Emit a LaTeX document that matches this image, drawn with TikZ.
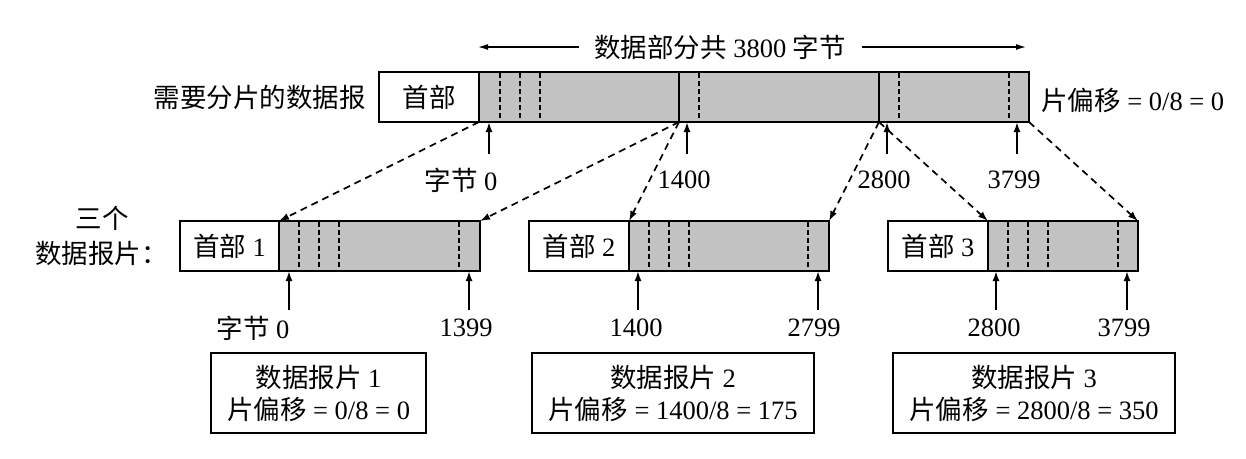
\documentclass[tikz,border=0pt]{standalone}
\usepackage{fontspec}
\setmainfont{Liberation Serif}
\newfontfamily\cjk{Noto Sans CJK SC}
\newcommand\zh[1]{{\cjk #1}}
\usetikzlibrary{arrows.meta}
\begin{document}
\begin{tikzpicture}[x=1pt,y=-1pt,
  txt/.style={font=\fontsize{26.5}{32}\selectfont, inner sep=0pt},
  hdrbox/.style={draw, line width=2pt, fill=white, inner sep=0pt, outer sep=0pt,
    minimum height=50pt, anchor=north west, font=\fontsize{26.5}{32}\selectfont},
  databox/.style={draw, line width=2pt, fill=black!24, inner sep=0pt, outer sep=0pt,
    minimum height=50pt, anchor=north west},
  divline/.style={line width=1.8pt, dash pattern=on 5pt off 3pt},
  uparrow/.style={line width=1.9pt, -{Latex[length=10pt,width=7pt]}},
  spanarrow/.style={line width=1.3pt, -{Latex[length=10pt,width=6pt]}},
  mapline/.style={line width=1.7pt, dash pattern=on 7pt off 5pt, -{Latex[length=10pt,width=7pt]}},
  infobox/.style={draw, line width=1.8pt, inner sep=0pt, outer sep=0pt, minimum height=80pt,
    anchor=north west, align=center, font=\fontsize{26.5}{32}\selectfont}
]
\path[use as bounding box] (0,0) rectangle (1246,458);

% ---------- original datagram ----------
\node[hdrbox, line width=2.6pt, minimum width=100pt] (h0) at (379,72) {\zh{首部}};
\node[databox, line width=2.6pt, minimum width=200pt] (s1) at (479,72) {};
\node[databox, line width=2.6pt, minimum width=200pt] (s2) at (679,72) {};
\node[databox, line width=2.6pt, minimum width=150pt] (s3) at (879,72) {};
\foreach \x in {500,520,540,699,899,1009}
  \draw[divline] (\x,73) -- (\x,121);

\node[txt, anchor=east] (lbl) at (366,97) {\zh{需要分片的数据报}};
\node[txt, anchor=west] (off0) at (1041,100) {\zh{片偏移} = 0/8 = 0};

\node[txt] (title) at (720,47) {\zh{数据部分共} 3800 \zh{字节}};
\coordinate (tl) at (478,47);
\coordinate (tr) at (1026,47);
\draw[spanarrow, shorten <=15pt] (title.west) -- (tl);
\draw[spanarrow, shorten <=16pt] (title.east) -- (tr);

\coordinate (u0) at (489,154);
\coordinate (u1) at (687,154);
\coordinate (u2) at (887,154);
\coordinate (u3) at (1017,154);
\draw[uparrow] (u0) -- (u0 |- s1.south);
\draw[uparrow] (u1) -- (u1 |- s2.south);
\draw[uparrow] (u2) -- (u2 |- s3.south);
\draw[uparrow] (u3) -- (u3 |- s3.south);
\node[txt] (b0) at (461,180) {\zh{字节} 0};
\node[txt] (b1) at (684,180) {1400};
\node[txt] (b2) at (884,180) {2800};
\node[txt] (b3) at (1014,180) {3799};

% ---------- fragments ----------
\node[txt] (three) at (102,218) {\zh{三个}};
\node[txt, anchor=west] (frags) at (35,253) {\zh{数据报片：}};

\node[hdrbox, minimum width=99pt] (f1h) at (180,221) {\zh{首部} 1};
\node[databox, minimum width=201pt] (f1d) at (279,221) {};
\node[hdrbox, minimum width=100pt] (f2h) at (529,221) {\zh{首部} 2};
\node[databox, minimum width=200pt] (f2d) at (629,221) {};
\node[hdrbox, minimum width=100pt] (f3h) at (888,221) {\zh{首部} 3};
\node[databox, minimum width=150pt] (f3d) at (988,221) {};
\foreach \x in {299,319,339,459,649,669,689,808,1008,1028,1048,1118}
  \draw[divline] (\x,222) -- (\x,270);

% mapping connectors
\draw[mapline] (h0.south east) -- (f1d.north west);
\draw[mapline] (s2.south west) -- (f1d.north east);
\draw[mapline] (s2.south west) -- (f2d.north west);
\draw[mapline] (s3.south west) -- (f2d.north east);
\draw[mapline] (s3.south west) -- (f3d.north west);
\draw[mapline] (s3.south east) -- (f3d.north east);

\coordinate (v1) at (289,310);
\coordinate (v2) at (469,310);
\coordinate (v3) at (638,310);
\coordinate (v4) at (818,310);
\coordinate (v5) at (996,310);
\coordinate (v6) at (1127,310);
\draw[uparrow] (v1) -- (v1 |- f1d.south);
\draw[uparrow] (v2) -- (v2 |- f1d.south);
\draw[uparrow] (v3) -- (v3 |- f2d.south);
\draw[uparrow] (v4) -- (v4 |- f2d.south);
\draw[uparrow] (v5) -- (v5 |- f3d.south);
\draw[uparrow] (v6) -- (v6 |- f3d.south);
\node[txt] (c1) at (253,328) {\zh{字节} 0};
\node[txt] (c2) at (466,328) {1399};
\node[txt] (c3) at (636,328) {1400};
\node[txt] (c4) at (814,328) {2799};
\node[txt] (c5) at (994,328) {2800};
\node[txt] (c6) at (1124,328) {3799};

% ---------- info boxes ----------
\node[infobox, minimum width=215pt] (i1) at (211,353) {\zh{数据报片} 1\\\zh{片偏移} = 0/8 = 0};
\node[infobox, minimum width=282pt] (i2) at (532,353) {\zh{数据报片} 2\\\zh{片偏移} = 1400/8 = 175};
\node[infobox, minimum width=282pt] (i3) at (893,353) {\zh{数据报片} 3\\\zh{片偏移} = 2800/8 = 350};
\end{tikzpicture}
\end{document}
